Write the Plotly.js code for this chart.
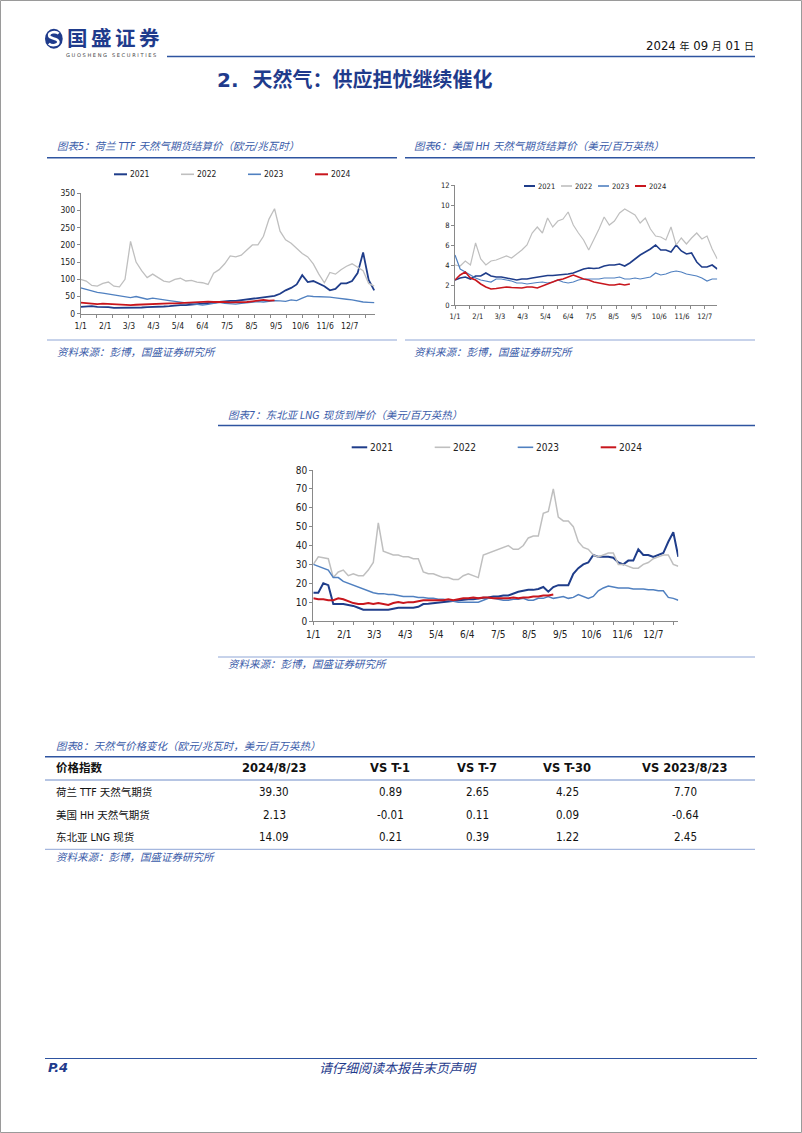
<!DOCTYPE html>
<html><head><meta charset="utf-8">
<script src="https://cdn.plot.ly/plotly-3.0.1.min.js"></script>
<style>html,body{margin:0;padding:0;background:#fff;}#page{width:802px;height:1133px;}</style>
</head><body><div id="page"></div>
<script>
// ---------- data ----------
const years = ['2021','2022','2023','2024'];
const tickDays = [0,31,61,92,123,154,185,216,247,278,309,340];
const tickLabels = ['1/1','2/1','3/3','4/3','5/4','6/4','7/5','8/5','9/5','10/6','11/6','12/7'];

// Fig 5: TTF (EUR/MWh)
const ttfDays = [0,7,14,21,28,35,42,49,56,63,70,77,84,91,98,105,112,119,126,133,140,147,154,161,168,175,182,189,196,203,210,217,224,231,238,245,252,259,266,273,280,287,294,301,308,315,322,329,336,343,350,357,364,371];
const ttf2021 = [20,21,22,20,20,19,17,17,17,16,17,18,19,19,20,21,22,24,25,25,26,27,28,30,32,34,36,37,37,39,40,42,44,46,48,52,58,68,75,85,112,92,95,88,80,68,72,88,88,95,118,178,98,68];
const ttf2022 = [100,95,82,80,88,92,80,78,100,210,150,125,105,115,105,95,92,100,103,95,97,92,90,85,118,128,145,168,165,170,185,200,200,225,275,305,240,215,205,190,175,165,145,115,90,120,115,128,138,145,135,125,88,80];
const ttf2023 = [75,70,65,62,60,57,55,52,50,47,50,45,42,45,42,40,38,36,34,33,30,27,25,27,30,33,30,29,28,30,32,33,35,34,36,38,37,36,40,38,45,52,50,50,48,48,46,45,42,40,36,34,33,32];
const ttf2024 = [32,30,30,28,29,28,27,25,24,25,26,27,28,28,29,30,30,30,31,33,34,35,34,35,34,35,34,33,33,32,34,36,38,40,38,39];

// Fig 6: Henry Hub (USD/MMBtu)
const hhDays = [0,7,14,21,28,35,42,49,56,63,70,77,84,91,98,105,112,119,126,133,140,147,154,161,168,175,182,189,196,203,210,217,224,231,238,245,252,259,266,273,280,287,294,301,308,315,322,329,336,343,350,357];
const hh2021 = [2.5,2.7,2.8,2.6,2.9,2.9,3.2,2.9,2.8,2.8,2.7,2.6,2.5,2.6,2.6,2.7,2.8,2.9,2.95,2.95,3.0,3.0,3.1,3.2,3.4,3.6,3.7,3.65,3.7,3.9,4.0,4.0,4.1,3.9,4.2,4.6,5.0,5.3,5.6,6.0,5.5,5.5,5.3,6.0,5.4,5.1,5.2,4.3,3.8,3.8,4.0,3.6];
const hh2022 = [4.0,3.9,4.4,4.0,6.2,4.6,4.0,4.4,4.5,4.7,4.9,4.7,5.1,5.5,6.0,7.2,7.8,7.2,8.7,7.8,8.4,8.6,9.3,8.0,7.2,6.5,5.5,6.5,7.6,8.8,8.0,8.4,9.2,9.6,9.3,9.0,8.2,8.7,7.6,6.9,6.8,6.5,7.8,6.0,6.7,6.1,6.7,7.2,6.6,6.9,5.6,4.6];
const hh2023 = [5.0,3.6,3.3,3.0,2.7,2.5,2.4,2.3,2.6,2.6,2.5,2.4,2.2,2.2,2.1,2.2,2.25,2.3,2.2,2.3,2.5,2.3,2.2,2.3,2.5,2.6,2.6,2.6,2.6,2.7,2.7,2.7,2.8,2.6,2.6,2.7,2.6,2.7,2.8,3.2,3.0,3.1,3.3,3.4,3.3,3.1,3.0,2.9,2.7,2.4,2.6,2.6];
const hh2024 = [2.5,3.0,3.3,2.7,2.5,2.1,1.8,1.6,1.65,1.7,1.8,1.75,1.75,1.7,1.8,1.8,1.7,1.9,2.1,2.3,2.5,2.6,2.8,3.0,2.8,2.6,2.5,2.3,2.2,2.1,2.0,2.0,2.1,2.0,2.1];

// Fig 7: NE Asia LNG spot (USD/MMBtu)
const lngDays = [0,5,10,15,20,25,30,35,40,45,50,55,60,65,70,75,80,85,90,95,100,105,110,115,120,125,130,135,140,145,150,155,160,165,170,175,180,185,190,195,200,205,210,215,220,225,230,235,240,245,250,255,260,265,270,275,280,285,290,295,300,305,310,315,320,325,330,335,340,345,350,355,360,365];
const lng2021 = [15,15,20,19,9,9,9,8.5,8,7,6,6,6,6,6,6,6.5,7,7,7,7,7.5,9,9.2,9.5,9.7,10,10.3,10.5,11,11,11.5,11.5,12,12.3,12.5,13,13,13.5,13.5,14.5,15.5,16,16.5,16.5,17,18,15.5,18,19,19,19,25,28,30,31,35,34,34,34,33.5,31,30,32,32,38,35,35,34,35,36,42,47,34];
const lng2022 = [30,34,33.5,33,23,26,27,24,25,24,24,27,31,52,37,36,35,35,34,34,33,33,26,25,25,24,23,23,22,22,24,25,24,23,35,36,37,38,39,40,38,38,40,44,45,45,57,58,70,55,53,53,50,42,39,38,35,34,35,36,36,30,30,29,28,28,30,31,33,34,35,35,30,29];
const lng2023 = [30,29,28,27,23,23,21,20,19,18,17,16,15,14.5,14.5,14,14,13.5,13,13,13,12.5,12.5,12,12,11.5,11.5,11,10.5,10,10,10,10,10,11,12,12,11.5,11,11,11.5,11.5,12,11,11,12,12,13,12,12.5,13,12,12.5,14,13,12,13,16,17.5,18.5,18,17.5,17.5,17.5,17,17,17,16.5,16.5,16,16,12.5,12,11];
const lng2024 = [12,11.5,11.5,11,11,12,11.5,10.5,9.5,9,9,9.5,9,9.5,9,8.5,9.5,10,9.5,10,10,10.5,11,11,11,11,11,11.5,11,11.5,12,12,12.5,12,12.5,12.5,12,12,12,12,12.5,12,12.5,12.5,13,13,13.5,13.5,14];

// Fig 8: table
const tableHeader = ['价格指数','2024/8/23','VS T-1','VS T-7','VS T-30','VS 2023/8/23'];
const rowNames = ['荷兰 TTF 天然气期货','美国 HH 天然气期货','东北亚 LNG 现货'];
const latest = ['39.30','2.13','14.09'];
const vsT1 = ['0.89','-0.01','0.21'];
const vsT7 = ['2.65','0.11','0.39'];
const vsT30 = ['4.25','0.09','1.22'];
const vsYoY = ['7.70','-0.64','2.45'];

// ---------- styling / layout ----------
const W = 802, H = 1133;
const fx = x => x / W, fy = y => 1 - y / H;
const colors = ['#1F3D8A', '#BFBFBF', '#5080C0', '#C8161D'];
const FNUM = 'DejaVu Sans Condensed, DejaVu Sans, sans-serif';
const FCJK = 'Noto Sans CJK SC, sans-serif';
const NAVY = '#1F3B8C', TBLUE = '#3A5BA9', AX = '#898989';

const traces = [];
function addSeries(xs, series, xa, ya, widths) {
  series.forEach((ys, i) => traces.push({
    type: 'scatter', mode: 'lines', x: xs.slice(0, ys.length), y: ys,
    xaxis: xa, yaxis: ya, line: {color: colors[i], width: widths[i]},
    showlegend: false, hoverinfo: 'skip'
  }));
}
addSeries(ttfDays, [ttf2021, ttf2022, ttf2023, ttf2024], 'x', 'y', [1.8, 1.3, 1.3, 1.8]);
addSeries(hhDays, [hh2021, hh2022, hh2023, hh2024], 'x2', 'y2', [1.6, 1.2, 1.2, 1.6]);
addSeries(lngDays, [lng2021, lng2022, lng2023, lng2024], 'x3', 'y3', [2, 1.5, 1.5, 2]);

function xAx(l, r, range, anchor, fs, standoff) {
  return {domain: [fx(l), fx(r)], range: range, anchor: anchor,
    tickmode: 'array', tickvals: tickDays, ticktext: tickLabels,
    showline: true, linecolor: AX, linewidth: 1, ticks: '', showgrid: false, zeroline: false,
    ticklabelstandoff: standoff,
    tickfont: {family: FNUM, size: fs, color: '#222'},
    minor: {tickmode: 'linear', tick0: 0, dtick: 20, ticks: 'outside', ticklen: 3, tickcolor: AX, showgrid: false}};
}
function yAx(top, bottom, range, dtick, anchor, fs) {
  return {domain: [fy(bottom), fy(top)], range: range, anchor: anchor, dtick: dtick, tick0: 0,
    showline: true, linecolor: AX, linewidth: 1, ticks: 'outside', ticklen: 3, tickcolor: AX,
    showgrid: false, zeroline: false, tickfont: {family: FNUM, size: fs, color: '#222'}};
}

const shapes = [], annotations = [];
function hline(x0, x1, y, color, width) {
  shapes.push({type: 'line', xref: 'paper', yref: 'paper', x0: fx(x0), x1: fx(x1), y0: fy(y), y1: fy(y), line: {color: color, width: width}});
}
function text(x, y, t, font, xanchor, yanchor) {
  annotations.push({xref: 'paper', yref: 'paper', x: fx(x), y: fy(y), text: t, showarrow: false,
    xanchor: xanchor || 'left', yanchor: yanchor || 'middle', align: 'left', font: font, borderpad: 0});
}
function legend(y, x0, step, len, fs) {
  years.forEach((yr, i) => {
    const xs = x0 + i * step;
    hline(xs, xs + len, y, colors[i], i === 0 || i === 3 ? 2 : 1.6);
    text(xs + len + 1.5, y, yr, {family: FNUM, size: fs, color: '#222'});
  });
}

// page border
shapes.push({type: 'rect', xref: 'paper', yref: 'paper', x0: fx(0.5), x1: fx(801.5), y0: fy(0.5), y1: fy(1132.5), line: {color: '#9a9a9a', width: 1}});

// header: logo
const P = (x, y) => fx(x) + ',' + fy(y);
shapes.push({type: 'circle', xref: 'paper', yref: 'paper', x0: fx(45), x1: fx(62.7), y0: fy(48.7), y1: fy(28.7), fillcolor: NAVY, line: {width: 0}});
shapes.push({type: 'path', xref: 'paper', yref: 'paper',
  path: 'M' + P(58.6, 33.6) + ' C' + P(56, 31.2) + ' ' + P(48.6, 31.8) + ' ' + P(49.2, 35.8) +
        ' C' + P(49.8, 39.2) + ' ' + P(58, 37.6) + ' ' + P(58.4, 41.6) +
        ' C' + P(58.8, 45.6) + ' ' + P(51.6, 46.2) + ' ' + P(48.8, 43.6),
  line: {color: '#ffffff', width: 2.6}});
const brand = '国盛证券';
Array.from(brand).forEach((ch, i) => text(77 + i * 24.2, 37, '<b>' + ch + '</b>', {family: FCJK, size: 20.5, color: NAVY}, 'center'));
text(65, 54.8, 'G U O S H E N G   S E C U R I T I E S', {family: 'DejaVu Sans, sans-serif', size: 5.1, color: '#444'});
text(755, 46, '2024 <span style="font-size:10px">年</span> 09 <span style="font-size:10px">月</span> 01 <span style="font-size:10px">日</span>',
  {family: FNUM + ',' + FCJK, size: 13, color: '#111'}, 'right');
hline(167, 755, 56.5, '#2E54A0', 1.5);

// section title
text(354, 80, '<b>2.  天然气：供应担忧继续催化</b>', {family: 'DejaVu Sans,' + FCJK, size: 20, color: NAVY}, 'center');

const titleFont = {family: FNUM + ',' + FCJK, size: 10.5, color: TBLUE, style: 'italic'};
const srcText = '资料来源：彭博，国盛证券研究所';

// chart 5
text(56, 145.7, '图表5：荷兰 TTF 天然气期货结算价（欧元/兆瓦时）', titleFont);
hline(47, 397, 157.7, '#2E54A0', 1.5);
legend(174.3, 114, 67, 13, 8.5);
hline(47, 397, 340, '#8FA6D6', 1);
text(56, 352, srcText, titleFont);

// chart 6
text(413, 145.7, '图表6：美国 HH 天然气期货结算价（美元/百万英热）', titleFont);
hline(405, 755, 157.7, '#2E54A0', 1.5);
legend(186, 524, 37, 11, 7.5);
hline(405, 755, 340, '#8FA6D6', 1);
text(413, 352, srcText, titleFont);

// chart 7
text(227, 414.8, '图表7：东北亚 LNG 现货到岸价（美元/百万英热）', titleFont);
hline(218, 755, 425.5, '#2E54A0', 1.5);
legend(447.3, 351.7, 83, 15.5, 10);
hline(218, 755, 657, '#8FA6D6', 1);
text(227, 664, srcText, titleFont);

// table 8
text(55, 745.7, '图表8：天然气价格变化（欧元/兆瓦时，美元/百万英热）', titleFont);
hline(45, 755, 756.7, '#2E54A0', 1.5);
hline(45, 755, 780, '#6F8CC8', 1);
hline(45, 755, 849.3, '#8FA6D6', 1);
const colX = [55, 274, 390, 477, 567, 685];
const headFont = {family: 'DejaVu Sans,' + FCJK, size: 11.5, color: '#111', weight: 'bold'};
tableHeader.forEach((h, j) => text(colX[j], 768.3, '<b>' + h + '</b>', headFont, j === 0 ? 'left' : 'center'));
const rowY = [792.3, 815, 836.7];
const cols = [latest, vsT1, vsT7, vsT30, vsYoY];
rowNames.forEach((name, i) => {
  text(55, rowY[i], name, {family: FNUM + ',' + FCJK, size: 10.5, color: '#111'});
  cols.forEach((c, j) => text(colX[j + 1], rowY[i], c[i], {family: FNUM, size: 11.5, color: '#111'}, 'center'));
});
text(55, 857.5, srcText, titleFont);

// footer
hline(45, 757, 1058.5, '#2E54A0', 1.2);
text(47, 1067, '<b><i>P.4</i></b>', {family: 'DejaVu Sans, sans-serif', size: 13, color: NAVY});
text(398, 1067, '请仔细阅读本报告末页声明', {family: FCJK, size: 13, color: NAVY, style: 'italic'}, 'center');

const layout = {
  width: W, height: H, margin: {l: 0, r: 0, t: 0, b: 0}, paper_bgcolor: '#fff', plot_bgcolor: 'rgba(0,0,0,0)',
  showlegend: false, hovermode: false,
  font: {family: FNUM + ',' + FCJK},
  xaxis: xAx(80.7, 375, [0, 372], 'y', 8.5, 4),
  yaxis: yAx(193.3, 313.7, [0, 350], 50, 'x', 8.5),
  xaxis2: xAx(455, 717.3, [0, 357], 'y2', 7.5, 4),
  yaxis2: yAx(185, 305, [0, 12], 2, 'x2', 7.5),
  xaxis3: xAx(313.3, 678.3, [0, 365], 'y3', 10, 4),
  yaxis3: yAx(470, 621, [0, 80], 10, 'x3', 10),
  shapes: shapes, annotations: annotations
};
Plotly.newPlot('page', traces, layout, {displayModeBar: false, staticPlot: true});
</script></body></html>
